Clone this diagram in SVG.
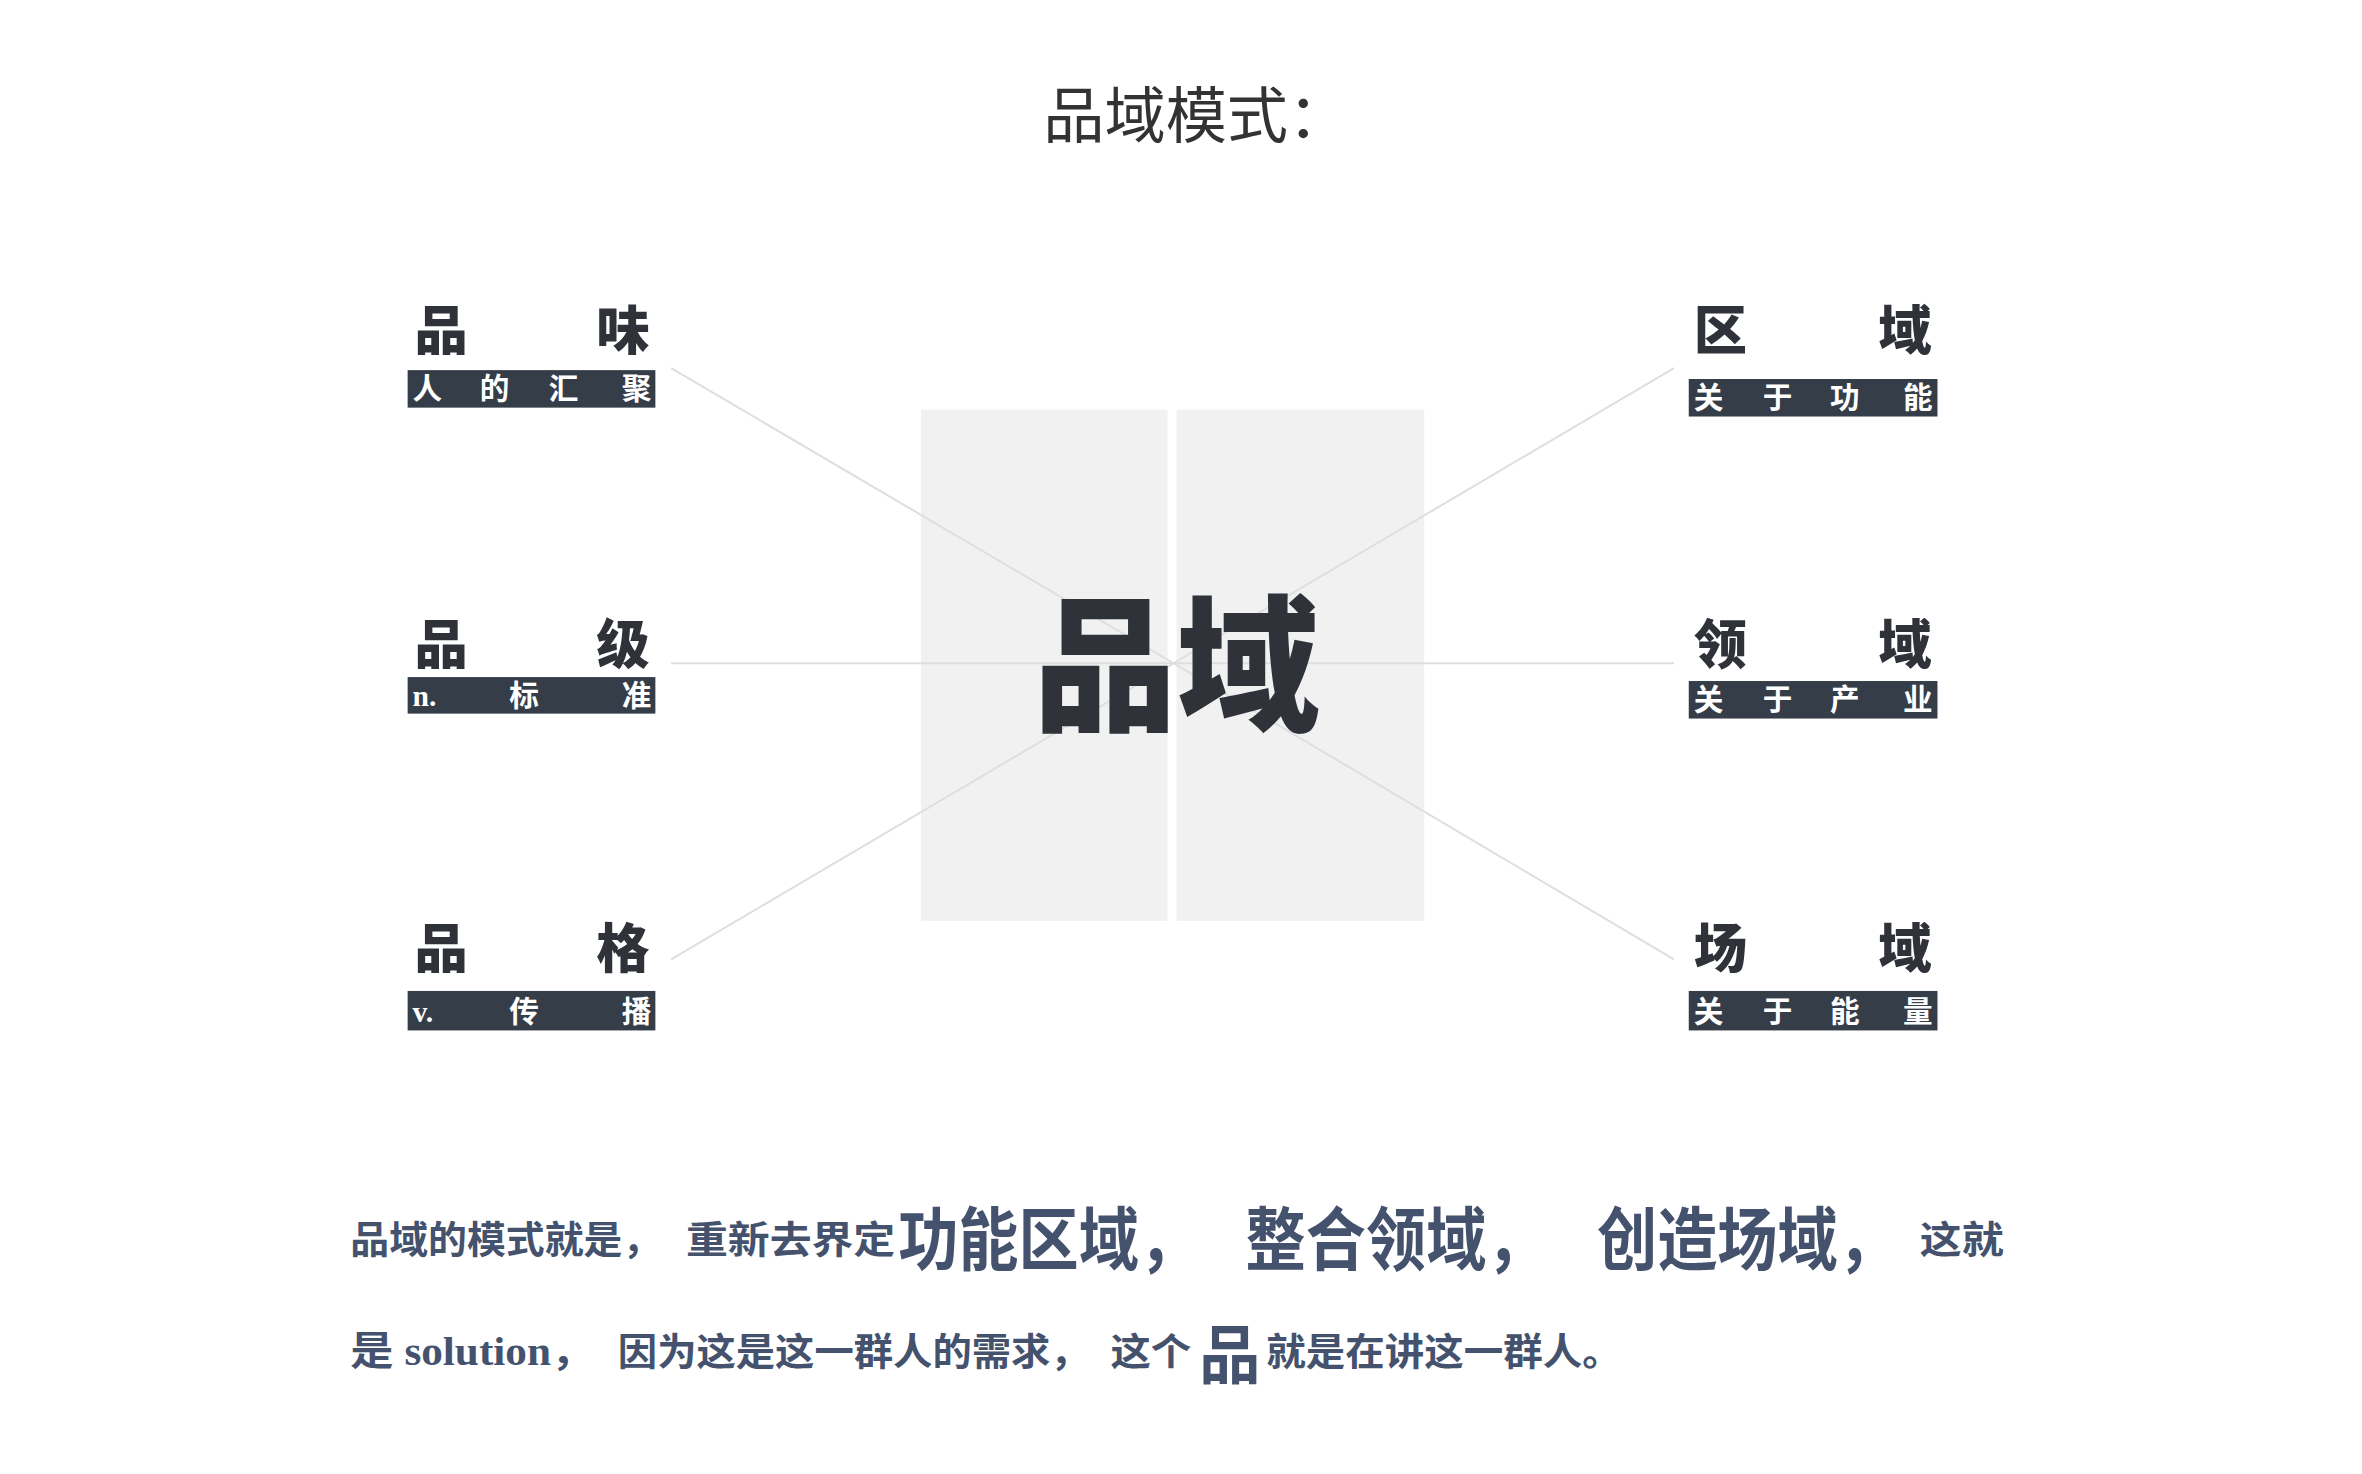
<svg xmlns="http://www.w3.org/2000/svg" width="2362" height="1474" viewBox="0 0 2362 1474">
<style>
.t{font-family:"Noto Sans CJK SC",sans-serif;font-weight:900;fill:#2f3339}
.bar{fill:#343d48}
.s{font-family:"Liberation Serif","Noto Sans CJK SC",serif;font-weight:700;fill:#fff;font-size:30px}
.b{font-family:"Liberation Serif","Noto Sans CJK SC",serif;font-weight:700;fill:#44526e}
.ln{stroke:#dedede;stroke-width:2;fill:none}
</style>
<rect width="2362" height="1474" fill="#fff"/>
<g transform="scale(0.987)">
<text x="1212" y="140" text-anchor="middle" font-family="Noto Sans CJK SC,sans-serif" font-size="62" fill="#333">品域模式：</text>
<g id="center">
<rect x="933" y="415" width="250" height="518" fill="#f1f1f1"/>
<rect x="1192" y="415" width="251" height="518" fill="#f1f1f1"/>
</g>
<g id="connectors">
<line class="ln" x1="680" y1="373" x2="1189" y2="672"/>
<line class="ln" x1="680" y1="672" x2="1696" y2="672"/>
<line class="ln" x1="680" y1="972" x2="1189" y2="672"/>
<line class="ln" x1="1696" y1="373" x2="1189" y2="672"/>
<line class="ln" x1="1696" y1="972" x2="1189" y2="672"/>
</g>
<text class="t" x="1192" y="728" text-anchor="middle" font-size="148" textLength="290" lengthAdjust="spacingAndGlyphs">品域</text>
<g id="n1"><text class="t" x="420" y="355" font-size="54">品</text><text class="t" x="658" y="355" font-size="54" text-anchor="end">味</text>
<rect class="bar" x="413" y="375" width="251" height="38"/><text class="s" x="418" y="404">人</text><text class="s" x="486" y="404">的</text><text class="s" x="556" y="404">汇</text><text class="s" x="660" y="404" text-anchor="end">聚</text></g>
<g id="n2"><text class="t" x="420" y="673" font-size="54">品</text><text class="t" x="658" y="673" font-size="54" text-anchor="end">级</text>
<rect class="bar" x="413" y="686" width="251" height="37"/><text class="s" x="418" y="715">n.</text><text class="s" x="516" y="715">标</text><text class="s" x="660" y="715" text-anchor="end">准</text></g>
<g id="n3"><text class="t" x="420" y="981" font-size="54">品</text><text class="t" x="658" y="981" font-size="54" text-anchor="end">格</text>
<rect class="bar" x="413" y="1004" width="251" height="40"/><text class="s" x="418" y="1035">v.</text><text class="s" x="516" y="1035">传</text><text class="s" x="660" y="1035" text-anchor="end">播</text></g>
<g id="n4"><text class="t" x="1716" y="355" font-size="54">区</text><text class="t" x="1957" y="355" font-size="54" text-anchor="end">域</text>
<rect class="bar" x="1711" y="384" width="252" height="38"/><text class="s" x="1716" y="413">关</text><text class="s" x="1786" y="413">于</text><text class="s" x="1854" y="413">功</text><text class="s" x="1958" y="413" text-anchor="end">能</text></g>
<g id="n5"><text class="t" x="1716" y="673" font-size="54">领</text><text class="t" x="1957" y="673" font-size="54" text-anchor="end">域</text>
<rect class="bar" x="1711" y="690" width="252" height="38"/><text class="s" x="1716" y="719">关</text><text class="s" x="1786" y="719">于</text><text class="s" x="1854" y="719">产</text><text class="s" x="1958" y="719" text-anchor="end">业</text></g>
<g id="n6"><text class="t" x="1716" y="981" font-size="54">场</text><text class="t" x="1957" y="981" font-size="54" text-anchor="end">域</text>
<rect class="bar" x="1711" y="1004" width="252" height="40"/><text class="s" x="1716" y="1035">关</text><text class="s" x="1786" y="1035">于</text><text class="s" x="1854" y="1035">能</text><text class="s" x="1958" y="1035" text-anchor="end">量</text></g>
<g id="para">
<text class="b" x="355" y="1270" font-size="38" textLength="315" lengthAdjust="spacingAndGlyphs">品域的模式就是，</text>
<text class="b" x="695" y="1270" font-size="38" textLength="212" lengthAdjust="spacingAndGlyphs">重新去界定</text>
<text class="b" x="910" y="1282" font-size="70" textLength="305" lengthAdjust="spacingAndGlyphs">功能区域，</text>
<text class="b" x="1262" y="1282" font-size="70" textLength="305" lengthAdjust="spacingAndGlyphs">整合领域，</text>
<text class="b" x="1618" y="1282" font-size="70" textLength="305" lengthAdjust="spacingAndGlyphs">创造场域，</text>
<text class="b" x="1945" y="1270" font-size="38" textLength="85" lengthAdjust="spacingAndGlyphs">这就</text>
<text class="b" x="355" y="1383" font-size="40" textLength="247" lengthAdjust="spacingAndGlyphs">是 solution，</text>
<text class="b" x="626" y="1383" font-size="38" textLength="478" lengthAdjust="spacingAndGlyphs">因为这是这一群人的需求，</text>
<text class="b" x="1125" y="1383" font-size="38" textLength="82" lengthAdjust="spacingAndGlyphs">这个</text>
<text class="b" x="1215" y="1396" font-size="64" textLength="62" lengthAdjust="spacingAndGlyphs">品</text>
<text class="b" x="1283" y="1383" font-size="38" textLength="360" lengthAdjust="spacingAndGlyphs">就是在讲这一群人。</text>
</g>
</g>
</svg>
